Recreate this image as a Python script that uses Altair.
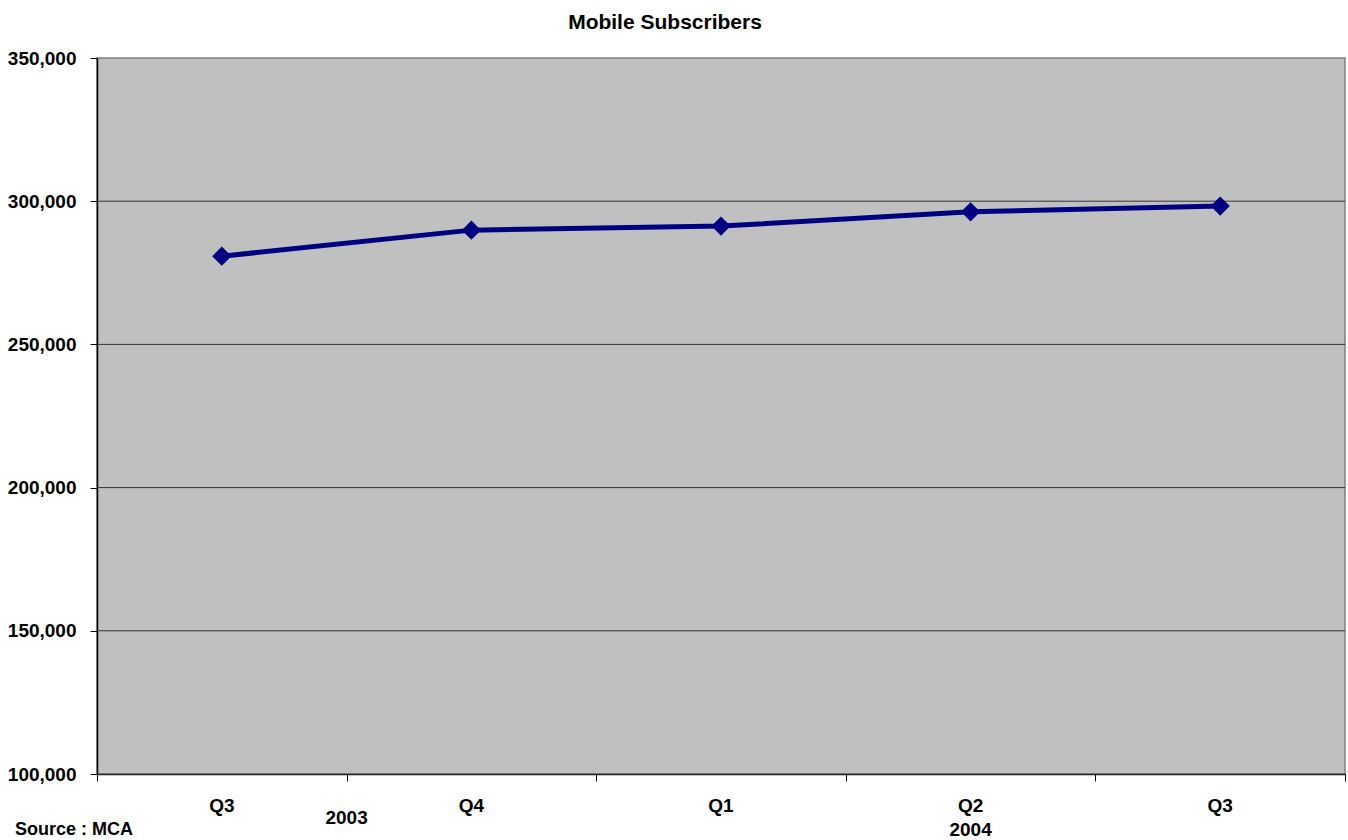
import altair as alt
import numpy as np
import pandas as pd

# Quarterly mobile subscriber counts
quarters = ["Q3", "Q4", "Q1", "Q2", "Q3"]
years = ["2003", "2003", "2004", "2004", "2004"]
subscribers = [280800, 289900, 291300, 296300, 298300]

y_ticks = [100000, 150000, 200000, 250000, 300000, 350000]

df = pd.DataFrame({"quarter": quarters, "year": years, "subscribers": subscribers})
df["slot"] = np.arange(len(df)) + 0.5  # centre of each category band

year_df = df.groupby("year", sort=False)["slot"].mean().reset_index()
grid_df = pd.DataFrame({"v": y_ticks[1:-1]})

FONT = "Liberation Sans"
NAVY = "#000080"
W, H = 1248, 716

x_scale = alt.Scale(domain=[0, len(df)], nice=False, zero=False)
y_scale = alt.Scale(domain=[y_ticks[0], y_ticks[-1]], nice=False, zero=False)

x_enc = alt.X(
    "slot:Q",
    scale=x_scale,
    axis=alt.Axis(
        values=list(range(len(df) + 1)),
        labels=False,
        grid=False,
        title=None,
        tickSize=7,
        tickColor="black",
        domainColor="#222222",
        domainWidth=1.5,
    ),
)

grid = alt.Chart(grid_df).mark_rule(color="#333333", strokeWidth=1).encode(
    y=alt.Y("v:Q", scale=y_scale)
)

line = alt.Chart(df).mark_line(color=NAVY, strokeWidth=5).encode(
    x=x_enc,
    y=alt.Y(
        "subscribers:Q",
        scale=y_scale,
        axis=alt.Axis(
            values=y_ticks,
            format=",d",
            grid=False,
            title=None,
            labelFont=FONT,
            labelFontSize=19,
            labelFontWeight="bold",
            labelColor="black",
            labelPadding=14,
            tickSize=7,
            tickColor="black",
            domainColor="black",
            domainWidth=1.5,
        ),
    ),
)

points = alt.Chart(df).mark_point(
    shape="diamond", filled=True, size=370, color=NAVY, opacity=1
).encode(x="slot:Q", y="subscribers:Q")

quarter_labels = alt.Chart(df).mark_text(
    font=FONT, fontSize=19, fontWeight="bold", color="black", baseline="middle"
).encode(x="slot:Q", y=alt.value(748), text="quarter:N")

year_2003 = alt.Chart(year_df).transform_filter(alt.datum.year == "2003").mark_text(
    font=FONT, fontSize=19, fontWeight="bold", color="black", baseline="middle"
).encode(x="slot:Q", y=alt.value(760), text="year:N")

year_2004 = alt.Chart(year_df).transform_filter(alt.datum.year == "2004").mark_text(
    font=FONT, fontSize=19, fontWeight="bold", color="black", baseline="middle"
).encode(x="slot:Q", y=alt.value(772), text="year:N")

source = alt.Chart(pd.DataFrame({"t": ["Source : MCA"]})).mark_text(
    font=FONT, fontSize=18, fontWeight="bold", color="black", align="left", baseline="middle"
).encode(x=alt.value(-82), y=alt.value(772), text="t:N")

title = alt.Chart(pd.DataFrame({"t": ["Mobile Subscribers"]})).mark_text(
    font=FONT, fontSize=21, fontWeight="bold", color="black", align="center", baseline="middle"
).encode(x=alt.value(568), y=alt.value(-35), text="t:N")

chart = (
    alt.layer(grid, line, points, quarter_labels, year_2003, year_2004, source, title)
    .properties(
        width=W,
        height=H,
        autosize=alt.AutoSizeParams(type="none"),
        padding={"left": 97, "top": 58, "right": 3, "bottom": 66},
        background="white",
    )
    .configure_view(fill="#C0C0C0", stroke="#808080", strokeWidth=1.5)
    .configure_text(font=FONT)
)

chart.save("out.html", embed_options={"renderer": "svg", "actions": False})
